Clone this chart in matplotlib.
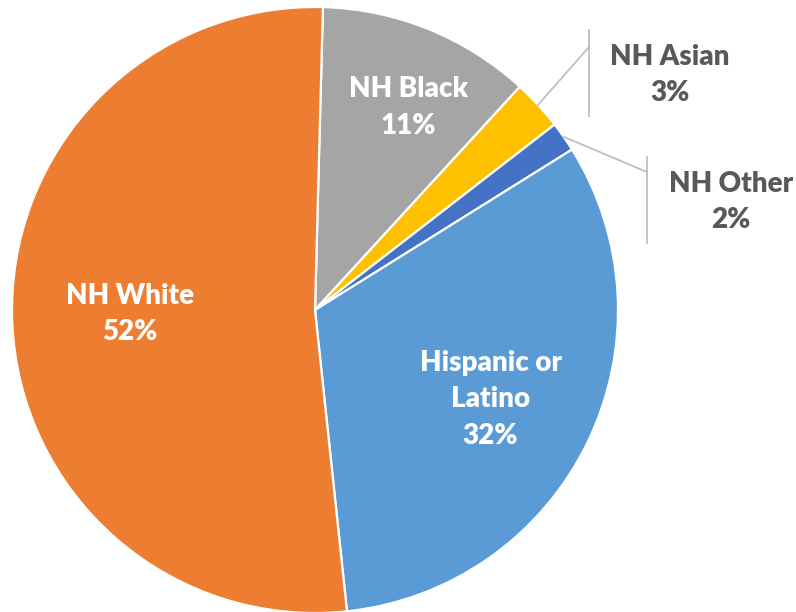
import numpy as np
import matplotlib
matplotlib.use("Agg")
from matplotlib import pyplot as plt

# data
groups = ['NH Black', 'NH Asian', 'NH Other', 'Hispanic or\nLatino', 'NH White']
shares = [11.4, 2.7, 1.6, 32.2, 52.1]
pct_labels = ['11%', '3%', '2%', '32%', '52%']
colors = ['#A5A5A5', '#FFC000', '#4472C4', '#5B9BD5', '#ED7D31']

plt.rcParams['font.family'] = ['Lato', 'DejaVu Sans']

W, H = 796, 612
cx, cy, R = 315, 310, 303   # pie centre / radius in pixels

def px(x, y):
    # pixel position -> data coords (radius 1 == R pixels)
    return (x - cx) / R, (cy - y) / R

fig = plt.figure(figsize=(W / 100, H / 100), dpi=100)
ax = fig.add_axes([0, 0, 1, 1])

wedges, _ = ax.pie(shares, colors=colors, startangle=88.5, counterclock=False,
                   radius=1.0, wedgeprops=dict(edgecolor='white', linewidth=1.6))

# (radial distance, angle nudge in degrees)
inside = {0: (0.735, -2.7), 3: (0.65, -1.0), 4: (0.61, -1.0)}
for i, w in enumerate(wedges):
    if i in inside:
        r, dt = inside[i]
        mid = np.deg2rad((w.theta1 + w.theta2) / 2 + dt)
        ax.text(r * np.cos(mid), r * np.sin(mid), groups[i] + '\n' + pct_labels[i],
                ha='center', va='center', color='white', fontsize=20,
                fontweight='heavy', linespacing=1.5)

# outside labels with leader lines
outside = {1: ((589, 47), (589, 30, 116), (670, 75)),
           2: ((647, 172), (647, 157, 243), (731, 202))}
for i, (elbow, vline, txt) in outside.items():
    w = wedges[i]
    mid = np.deg2rad((w.theta1 + w.theta2) / 2)
    x0, y0 = np.cos(mid), np.sin(mid)
    ex, ey = px(*elbow)
    ax.plot([x0, ex], [y0, ey], color='#BFBFBF', lw=1.3)
    vx, vy0 = px(vline[0], vline[1])
    _, vy1 = px(vline[0], vline[2])
    ax.plot([vx, vx], [vy0, vy1], color='#BFBFBF', lw=1.3)
    tx, ty = px(*txt)
    ax.text(tx, ty, groups[i] + '\n' + pct_labels[i], ha='center', va='center',
            color='#595959', fontsize=20, fontweight='heavy', linespacing=1.5)

ax.set_xlim(px(0, 0)[0], px(W, 0)[0])
ax.set_ylim(px(0, H)[1], px(0, 0)[1])
ax.set_aspect('equal', adjustable='box')
ax.axis('off')

fig.savefig('out.png', dpi=100)
